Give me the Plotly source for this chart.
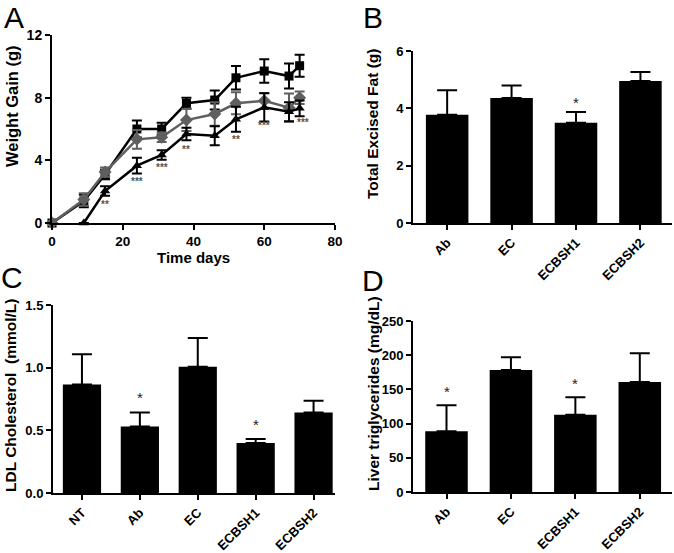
import plotly.graph_objects as go

# ---------------- Data ----------------
# Panel A: weight gain over time
days = [0, 9, 15, 24, 31, 38, 46, 52, 60, 67, 70]
sq_vals = [0, 1.4, 3.1, 6.0, 6.0, 7.64, 7.85, 9.27, 9.7, 9.38, 10.04]
sq_err = [0, 0.4, 0.3, 0.55, 0.4, 0.35, 0.6, 0.75, 0.75, 0.8, 0.7]
gr_vals = [0, 1.5, 3.25, 5.34, 5.47, 6.57, 6.96, 7.64, 7.8, 7.36, 8.0]
gr_err = [0, 0.4, 0.3, 0.6, 0.3, 0.7, 0.75, 0.7, 0.5, 0.9, 0.4]
tri_days = [9, 15, 24, 31, 38, 46, 52, 60, 67, 70]
tri_vals = [0, 2.04, 3.66, 4.34, 5.68, 5.57, 6.62, 7.38, 7.1, 7.32]
tri_err = [0, 0.3, 0.5, 0.3, 0.4, 0.6, 0.8, 0.9, 0.6, 0.5]
star_days = [15, 24, 31, 38, 52, 60, 71]
star_y = [1.2, 2.65, 3.55, 4.7, 5.35, 6.2, 6.4]
star_txt = ["**", "***", "***", "**", "**", "***", "***"]

# Panel B: total excised fat
b_cats = ["Ab", "EC", "ECBSH1", "ECBSH2"]
b_vals = [3.78, 4.36, 3.5, 4.95]
b_err = [0.85, 0.44, 0.37, 0.32]
b_star = ["", "", "*", ""]

# Panel C: LDL cholesterol
c_cats = ["NT", "Ab", "EC", "ECBSH1", "ECBSH2"]
c_vals = [0.865, 0.53, 1.008, 0.398, 0.642]
c_err = [0.242, 0.112, 0.229, 0.032, 0.095]
c_star = ["", "*", "", "*", ""]

# Panel D: liver triglycerides
d_cats = ["Ab", "EC", "ECBSH1", "ECBSH2"]
d_vals = [88.7, 178.4, 113.0, 160.8]
d_err = [38.0, 18.6, 25.4, 42.0]
d_star = ["*", "", "*", ""]

# ---------------- Figure ----------------
FONT = "Liberation Sans, Arial, sans-serif"
GRAY = "#5f5f5f"
fig = go.Figure()

def err(arr, w, color, thick=2):
    return dict(type="data", array=arr, visible=True, color=color, thickness=thick, width=w)

# Panel A
fig.add_trace(go.Scatter(x=days, y=sq_vals, mode="lines+markers",
                         line=dict(color="black", width=2.5),
                         marker=dict(symbol="square", size=9, color="black"),
                         error_y=err(sq_err, 5, "black"), cliponaxis=False,
                         xaxis="x", yaxis="y", showlegend=False))
fig.add_trace(go.Scatter(x=days, y=gr_vals, mode="lines+markers",
                         line=dict(color=GRAY, width=2.5),
                         marker=dict(symbol="diamond", size=10, color=GRAY),
                         error_y=err(gr_err, 5, GRAY), cliponaxis=False,
                         xaxis="x", yaxis="y", showlegend=False))
fig.add_trace(go.Scatter(x=tri_days, y=tri_vals, mode="lines+markers",
                         line=dict(color="black", width=2.5),
                         marker=dict(symbol="triangle-up", size=9, color="black"),
                         error_y=err(tri_err, 5, "black"), cliponaxis=False,
                         xaxis="x", yaxis="y", showlegend=False))

def bar(cats, vals, errs, xa, ya):
    return go.Bar(x=cats, y=vals, width=0.66, marker=dict(color="black", line=dict(width=0)),
                  error_y=dict(type="data", array=errs, arrayminus=[0] * len(errs), symmetric=False,
                               visible=True, color="black", thickness=2, width=10),
                  xaxis=xa, yaxis=ya, showlegend=False)

fig.add_trace(bar(b_cats, b_vals, b_err, "x2", "y2"))
fig.add_trace(bar(c_cats, c_vals, c_err, "x3", "y3"))
fig.add_trace(bar(d_cats, d_vals, d_err, "x4", "y4"))

W, H = 674, 553
def px(x):
    return x / W
def py(y):
    return 1 - y / H
def dom_x(a, b):
    return [px(a), px(b)]
def dom_y(top, bottom):
    return [py(bottom), py(top)]

def axis(size):
    return dict(showline=True, linecolor="black", linewidth=2, ticks="outside",
                ticklen=5, tickwidth=2, tickcolor="black", showgrid=False,
                zeroline=False, automargin=False,
                tickfont=dict(family=FONT, size=size, color="black", weight="bold"))

annotations = []
# Stars panel A
for d, y, t in zip(star_days, star_y, star_txt):
    annotations.append(dict(x=d, y=y, xref="x", yref="y", text=f"<b>{t}</b>", showarrow=False,
                            font=dict(family=FONT, size=10, color="#555"),
                            xanchor="center", yanchor="middle"))

def bar_stars(cats, vals, errs, stars, xr, yr, offset):
    out = []
    for c, v, e, s in zip(cats, vals, errs, stars):
        if s:
            out.append(dict(x=c, y=v + e + offset, xref=xr, yref=yr, text=s, showarrow=False,
                            font=dict(family=FONT, size=15, color="#222"),
                            xanchor="center", yanchor="middle"))
    return out

annotations += bar_stars(b_cats, b_vals, b_err, b_star, "x2", "y2", 0.35)
annotations += bar_stars(c_cats, c_vals, c_err, c_star, "x3", "y3", 0.12)
annotations += bar_stars(d_cats, d_vals, d_err, d_star, "x4", "y4", 20)

# Axis titles
def ytitle(text, x, y, size):
    return dict(x=px(x), y=py(y), xref="paper", yref="paper", text=f"<b>{text}</b>",
                textangle=-90, showarrow=False, xanchor="center", yanchor="middle",
                font=dict(family=FONT, size=size, color="black"))

annotations.append(ytitle("Weight Gain (g)", 12, 106, 16.5))
annotations.append(ytitle("Total Excised Fat (g)", 372, 124, 15.5))
annotations.append(ytitle("LDL Cholesterol  (mmol/L)", 11, 396, 15.5))
annotations.append(ytitle("Liver triglycerides (mg/dL)", 373, 393, 15.5))
annotations.append(dict(x=px(193), y=py(257), xref="paper", yref="paper", text="<b>Time days</b>",
                        showarrow=False, xanchor="center", yanchor="middle",
                        font=dict(family=FONT, size=15, color="black")))

# Panel letters
for letter, x, y in [("A", 14, 18), ("B", 373, 18), ("C", 12, 277), ("D", 373, 280)]:
    annotations.append(dict(x=px(x), y=py(y), xref="paper", yref="paper", text=letter,
                            showarrow=False, xanchor="center", yanchor="middle",
                            font=dict(family=FONT, size=30, color="black")))

fig.update_layout(
    width=W, height=H, margin=dict(l=0, r=0, t=0, b=0),
    paper_bgcolor="white", plot_bgcolor="white",
    xaxis=dict(domain=dom_x(52, 335), range=[0, 80], tickvals=[0, 20, 40, 60, 80],
               anchor="y", **axis(13.5)),
    yaxis=dict(domain=dom_y(35, 223), range=[0, 12], tickvals=[0, 4, 8, 12],
               anchor="x", **axis(14)),
    xaxis2=dict(domain=dom_x(413, 672), range=[-0.53, 3.49], tickangle=-45,
                anchor="y2", **axis(13)),
    yaxis2=dict(domain=dom_y(51, 223), range=[0, 6], tickvals=[0, 2, 4, 6],
                anchor="x2", **axis(13)),
    xaxis3=dict(domain=dom_x(53, 335), range=[-0.5, 4.37], tickangle=-45,
                anchor="y3", **axis(13)),
    yaxis3=dict(domain=dom_y(305, 493), range=[0, 1.5], tickvals=[0, 0.5, 1.0, 1.5],
                ticktext=["0.0", "0.5", "1.0", "1.5"], anchor="x3", **axis(13)),
    xaxis4=dict(domain=dom_x(413, 672), range=[-0.52, 3.5], tickangle=-45,
                anchor="y4", **axis(13)),
    yaxis4=dict(domain=dom_y(321, 492), range=[0, 250], tickvals=[0, 50, 100, 150, 200, 250],
                anchor="x4", **axis(13)),
    annotations=annotations,
)

# Remove the browser's default page margin so the figure sits at the window's corner.
fig.write_html("out.html", config={"displayModeBar": False},
               post_script="document.body.style.margin='0';")
